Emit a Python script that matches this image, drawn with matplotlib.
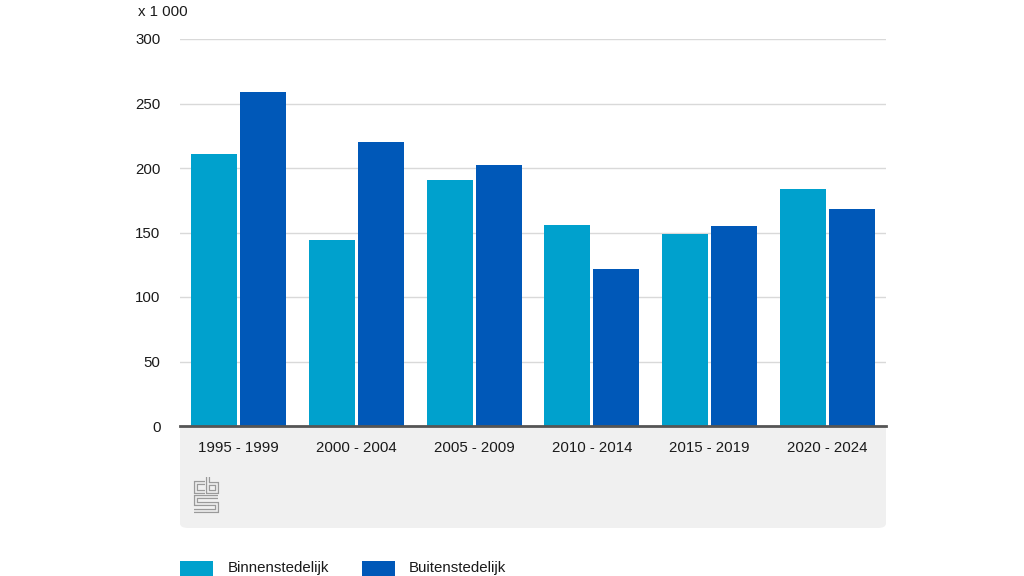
import numpy as np
import matplotlib
matplotlib.use("Agg")
import matplotlib.pyplot as plt
import matplotlib.patches as patches
from matplotlib.lines import Line2D

# data (x 1 000)
periods = ["1995 - 1999", "2000 - 2004", "2005 - 2009", "2010 - 2014", "2015 - 2019", "2020 - 2024"]
binnen = [211, 144, 191, 156, 149, 184]
buiten = [259, 220, 202, 122, 155, 168]
series_names = ["Binnenstedelijk", "Buitenstedelijk"]
yticks = [0, 50, 100, 150, 200, 250, 300]

c_binnen = "#00a1cd"
c_buiten = "#0058b8"
txt_col = "#1a1a1a"

plt.rcParams['font.family'] = ['Liberation Sans', 'DejaVu Sans']

W, H = 1024, 576
fig = plt.figure(figsize=(W / 100, H / 100), dpi=100)


def fx(px):
    return px / W


def fy(py):
    return 1 - py / H


ax = fig.add_axes([fx(180), fy(426), fx(886) - fx(180), fy(39) - fy(426)])
ax.set_facecolor("white")

x = np.arange(len(periods))
bw = 0.39
ax.bar(x - bw / 2 - 0.013, binnen, bw, color=c_binnen, zorder=3)
ax.bar(x + bw / 2 + 0.013, buiten, bw, color=c_buiten, zorder=3)

ax.set_xlim(-0.5, len(periods) - 0.5)
ax.set_ylim(0, 300)
ax.set_yticks(yticks)
ax.set_yticklabels([str(v) for v in yticks], fontsize=10.8, color=txt_col)
ax.set_xticks(x)
ax.set_xticklabels(periods, fontsize=10.8, color=txt_col)
ax.tick_params(axis="both", length=0)
ax.tick_params(axis="y", pad=14)
ax.tick_params(axis="x", pad=11)

ax.grid(axis="y", color="#d9d9d9", linewidth=1, zorder=0)
for s in ["top", "right", "left"]:
    ax.spines[s].set_visible(False)
ax.spines["bottom"].set_color("#555555")
ax.spines["bottom"].set_linewidth(2)
ax.spines["bottom"].set_zorder(4)

fig.text(fx(138), fy(12), "x 1 000", fontsize=10.8, color=txt_col, va="center", ha="left")

# grey footer box with rounded bottom corners
box = patches.FancyBboxPatch((fx(180), fy(528)), fx(886) - fx(180), fy(400) - fy(528),
                             boxstyle="round,pad=0,rounding_size=0.008",
                             transform=fig.transFigure, facecolor="#f0f0f0",
                             edgecolor="none", zorder=-1)
fig.patches.append(box)

# simple cbs logo, outlined strokes
segs = [
    [(205, 483), (195.5, 483), (195.5, 492), (205, 492)],                      # c
    [(208, 477), (208, 492), (217, 492), (217, 484), (208, 484)],              # b
    [(218, 496.5), (195.5, 496.5), (195.5, 503.5), (217, 503.5), (217, 510.5), (194, 510.5)],  # s
]
for seg in segs:
    xs = [fx(p[0]) for p in seg]
    ys = [fy(p[1]) for p in seg]
    fig.lines.append(Line2D(xs, ys, transform=fig.transFigure, color="#9a9a9a",
                            linewidth=3.0, solid_joinstyle="miter", solid_capstyle="butt"))
    fig.lines.append(Line2D(xs, ys, transform=fig.transFigure, color="#f0f0f0",
                            linewidth=1.2, solid_joinstyle="miter", solid_capstyle="butt"))

# legend
leg_items = [(180, 228, c_binnen, series_names[0]), (362, 409, c_buiten, series_names[1])]
for px, tx, col, name in leg_items:
    fig.patches.append(patches.Rectangle((fx(px), fy(576)), fx(33), fy(561) - fy(576),
                                         transform=fig.transFigure, facecolor=col, edgecolor="none"))
    fig.text(fx(tx), fy(568), name, fontsize=10.8, color=txt_col, va="center", ha="left")

fig.savefig("out.png", dpi=100, facecolor="white")
